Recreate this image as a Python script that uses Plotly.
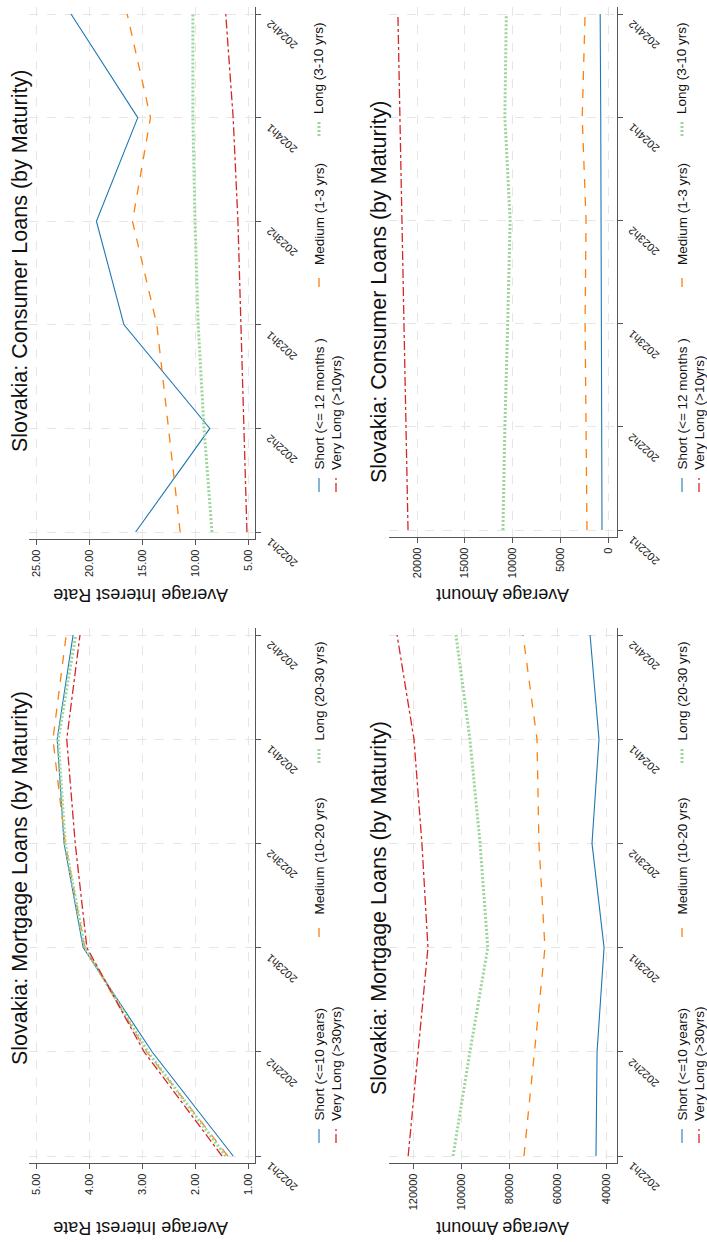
import plotly.graph_objects as go

W, H = 707, 1242
periods = ["2022h1", "2022h2", "2023h1", "2023h2", "2024h1", "2024h2"]

# Consumer loans - average interest rate
cons_rate_short = [15.6, 8.6, 16.7, 19.3, 15.4, 21.7]
cons_rate_medium = [11.4, 12.5, 13.6, 15.9, 14.2, 16.4]
cons_rate_long = [8.4, 9.15, 9.7, 10.0, 10.2, 10.2]
cons_rate_vlong = [5.1, 5.4, 5.7, 5.95, 6.4, 7.1]

# Mortgage loans - average interest rate
mort_rate_short = [1.28, 2.81, 4.11, 4.47, 4.60, 4.30]
mort_rate_medium = [1.38, 2.91, 4.08, 4.45, 4.68, 4.43]
mort_rate_long = [1.42, 2.89, 4.08, 4.45, 4.58, 4.25]
mort_rate_vlong = [1.49, 2.96, 4.04, 4.26, 4.42, 4.17]

# Consumer loans - average amount
cons_amt_short = [630, 650, 700, 720, 760, 820]
cons_amt_medium = [2200, 2300, 2400, 2300, 2700, 2400]
cons_amt_long = [11000, 10800, 10500, 10250, 10800, 10650]
cons_amt_vlong = [20940, 21150, 21360, 21570, 21780, 22000]

# Mortgage loans - average amount
mort_amt_short = [44150, 43700, 40800, 45800, 42900, 46600]
mort_amt_medium = [74000, 69800, 65300, 67800, 68600, 74400]
mort_amt_long = [103400, 96400, 89000, 92200, 96400, 102200]
mort_amt_vlong = [122000, 117900, 113800, 116300, 119600, 126600]

cons_labels = ["Short (<= 12 months )", "Medium (1-3 yrs)", "Long (3-10 yrs)", "Very Long (>10yrs)"]
mort_labels = ["Short (<=10 years)", "Medium (10-20 yrs)", "Long (20-30 yrs)", "Very Long (>30yrs)"]

rate_ticks_cons = [25, 20, 15, 10, 5]
rate_ticks_mort = [5, 4, 3, 2, 1]
amt_ticks_cons = [20000, 15000, 10000, 5000, 0]
amt_ticks_mort = [120000, 100000, 80000, 60000, 40000]

title_cons = "Slovakia: Consumer Loans (by Maturity)"
title_mort = "Slovakia: Mortgage Loans (by Maturity)"

COLORS = ["#1f77b4", "#ff7f0e", "#9ad59a", "#d62728"]
DASHES = ["solid", "dash", "2px,2px", "dashdot"]
WIDTHS = [1.1, 1.3, 3.0, 1.3]
FONT = "Liberation Sans, Arial, sans-serif"
AXC = "#555555"
GRIDC = "#e6e6e6"


def px(x):
    return x / W


def py(y):
    return 1 - y / H


fig = go.Figure()

panels = [
    ("x", "y", [cons_rate_short, cons_rate_medium, cons_rate_long, cons_rate_vlong],
     cons_labels, [25.66, 4.34], rate_ticks_cons, "{:.2f}",
     (29, 255), (7, 539)),
    ("x2", "y2", [cons_amt_short, cons_amt_medium, cons_amt_long, cons_amt_vlong],
     cons_labels, [22932, -942], amt_ticks_cons, "{:d}",
     (389, 617), (7, 537)),
    ("x3", "y3", [mort_rate_short, mort_rate_medium, mort_rate_long, mort_rate_vlong],
     mort_labels, [5.132, 0.868], rate_ticks_mort, "{:.2f}",
     (29, 255), (628, 1163)),
    ("x4", "y4", [mort_amt_short, mort_amt_medium, mort_amt_long, mort_amt_vlong],
     mort_labels, [129948, 35440], amt_ticks_mort, "{:d}",
     (389, 617), (628, 1163)),
]

layout = dict(
    width=W, height=H,
    margin=dict(l=0, r=0, t=0, b=0),
    paper_bgcolor="white", plot_bgcolor="white",
    showlegend=False,
    font=dict(family=FONT, color="#222"),
)

annotations = []
shapes = []

for (xa, ya, series, labels, vrange, ticks, fmt, (x0, x1), (y0, y1)) in panels:
    for vals, col, dash, w in zip(series, COLORS, DASHES, WIDTHS):
        fig.add_trace(go.Scatter(
            x=vals, y=periods, mode="lines", xaxis=xa, yaxis=ya,
            line=dict(color=col, dash=dash, width=w), hoverinfo="skip"))
    xkey = "xaxis" + xa[1:]
    ykey = "yaxis" + ya[1:]
    layout[xkey] = dict(
        domain=[px(x0), px(x1)], anchor=ya, range=vrange,
        tickvals=ticks, ticktext=[fmt.format(t) for t in ticks],
        tickangle=-90, ticks="outside", ticklen=5, tickcolor=AXC,
        tickfont=dict(size=11, family=FONT, color="#222"),
        showline=True, linecolor=AXC, linewidth=1.3,
        showgrid=True, gridcolor=GRIDC, griddash="dash", gridwidth=1,
        zeroline=False, automargin=False, fixedrange=True,
    )
    step = ((y1 - y0) - 14) / 5.0
    pad = 7 / step
    layout[ykey] = dict(
        domain=[py(y1), py(y0)], anchor=xa, side="right",
        type="category", categoryorder="array", categoryarray=periods,
        range=[-pad, 5 + pad],
        ticks="outside", ticklen=5, tickcolor=AXC, showticklabels=False,
        showline=True, linecolor=AXC, linewidth=1.3,
        showgrid=True, gridcolor=GRIDC, griddash="dash", gridwidth=1,
        zeroline=False, automargin=False, fixedrange=True,
    )
    for p in periods:
        annotations.append(dict(
            text=p, x=px(x1 + 6), xref="paper", y=p, yref=ya,
            xanchor="left", yanchor="top", yshift=-1, showarrow=False,
            textangle=-138, font=dict(size=11, family=FONT, color="#222")))

# panel titles
for (tx, tyc, t) in [(20, 261, title_cons), (379, 292, title_cons),
                     (20, 878, title_mort), (379, 908, title_mort)]:
    annotations.append(dict(text=t, x=px(tx), y=py(tyc), xref="paper", yref="paper",
                            xanchor="center", yanchor="middle", showarrow=False,
                            textangle=-90, font=dict(size=21.5, family=FONT, color="#111")))

# axis titles (upside down)
for (tx, ty, t) in [(141, 595, "Average Interest Rate"), (503, 595, "Average Amount"),
                    (141, 1228, "Average Interest Rate"), (503, 1228, "Average Amount")]:
    annotations.append(dict(text=t, x=px(tx), y=py(ty), xref="paper", yref="paper",
                            xanchor="center", yanchor="middle", showarrow=False,
                            textangle=180, font=dict(size=18, family=FONT, color="#111")))

# legends
legend_pos_cons = [(319, 492), (319, 287), (319, 136), (336, 492)]
legend_pos_mort = [(319, 1143), (319, 937), (319, 763), (336, 1143)]
for (lx_off, pos_list, labels) in [(0, legend_pos_cons, cons_labels), (363, legend_pos_cons, cons_labels),
                                   (0, legend_pos_mort, mort_labels), (363, legend_pos_mort, mort_labels)]:
    for (lx, lyb), lab, col, dash, w in zip(pos_list, labels, COLORS, DASHES, WIDTHS):
        X = lx + lx_off
        shapes.append(dict(type="line", xref="paper", yref="paper",
                           x0=px(X), x1=px(X), y0=py(lyb), y1=py(lyb - 14),
                           line=dict(color=col, dash=dash, width=w)))
        annotations.append(dict(text=lab, x=px(X), y=py(lyb - 20), xref="paper", yref="paper",
                                xanchor="center", yanchor="bottom", showarrow=False,
                                textangle=-90, font=dict(size=13.5, family=FONT, color="#111")))

layout["annotations"] = annotations
layout["shapes"] = shapes
fig.update_layout(**layout)
fig.write_html("out.html")
